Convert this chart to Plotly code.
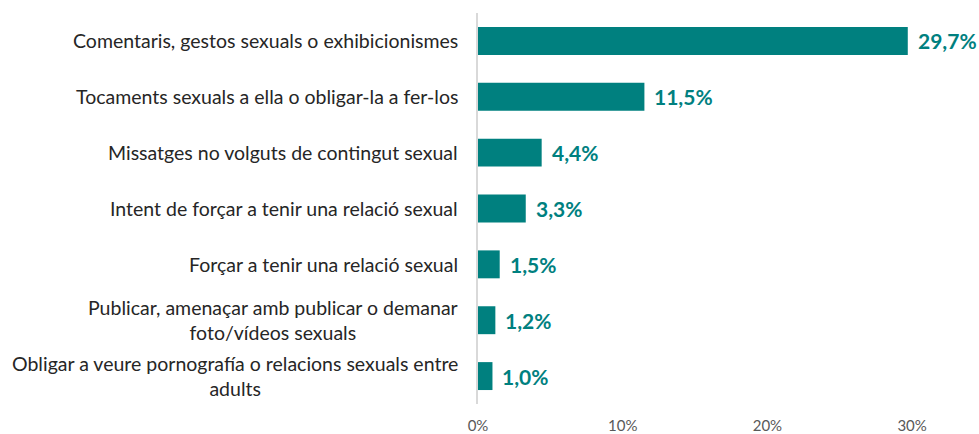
import plotly.graph_objects as go

categories = [
    "Comentaris, gestos sexuals o exhibicionismes",
    "Tocaments sexuals a ella o obligar-la a fer-los",
    "Missatges no volguts de contingut sexual",
    "Intent de forçar a tenir una relació sexual",
    "Forçar a tenir una relació sexual",
    "Publicar, amenaçar amb publicar o demanar<br>foto/vídeos sexuals",
    "Obligar a veure pornografía o relacions sexuals entre<br>adults",
]
values = [29.7, 11.5, 4.4, 3.3, 1.5, 1.2, 1.0]
tick_vals = [0, 10, 20, 30]
tick_text = ["0%", "10%", "20%", "30%"]

TEAL = "#00807F"
FONT = "Lato"

fig = go.Figure()
fig.add_trace(go.Bar(
    y=categories, x=values, orientation="h",
    marker=dict(color=TEAL, line=dict(width=0)),
    width=0.5, hoverinfo="skip",
))

annotations = []
for c, v in zip(categories, values):
    annotations.append(dict(
        x=0, y=c, xref="paper", yref="y", xanchor="right", yanchor="middle",
        xshift=-18, text=c, showarrow=False, align="center",
        font=dict(family=FONT, size=19.5, color="#262626"),
    ))
    annotations.append(dict(
        x=v, y=c, xref="x", yref="y", xanchor="left", yanchor="middle",
        xshift=8, text=f"<b>{v:.1f}%</b>".replace(".", ","), showarrow=False,
        font=dict(family=FONT, size=21, color=TEAL),
    ))

fig.update_layout(
    width=979, height=434,
    margin=dict(l=478, r=9, t=13, b=30),
    paper_bgcolor="white", plot_bgcolor="white",
    showlegend=False, bargap=0.5,
    annotations=annotations,
    xaxis=dict(range=[0, 34], tickvals=tick_vals, ticktext=tick_text,
               showgrid=False, zeroline=False, showline=False, ticks="",
               tickfont=dict(family=FONT, size=15, color="#595959"),
               ticklabelstandoff=11, automargin=False, fixedrange=True),
    yaxis=dict(autorange="reversed", showticklabels=False, showgrid=False,
               zeroline=False, showline=True, linecolor="#d9d9d9", linewidth=1.5,
               ticks="", automargin=False, fixedrange=True),
)

fig.write_html("out.html", config={"displayModeBar": False},
               post_script="document.body.style.margin='0';document.body.style.padding='0';")
